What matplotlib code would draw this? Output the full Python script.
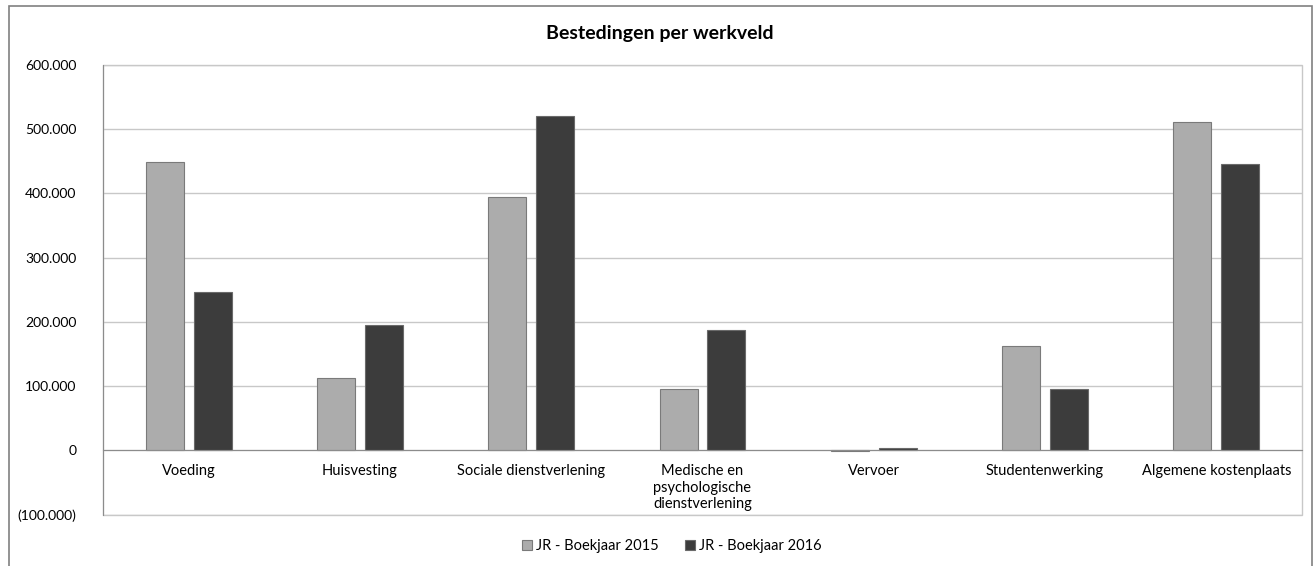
import numpy as np
import matplotlib
matplotlib.use('Agg')
import matplotlib.pyplot as plt
from matplotlib.patches import Rectangle
from matplotlib.ticker import FuncFormatter

categories = ['Voeding', 'Huisvesting', 'Sociale dienstverlening',
              'Medische en\npsychologische\ndienstverlening', 'Vervoer',
              'Studentenwerking', 'Algemene kostenplaats']
jr_2015 = [449000, 113000, 394000, 96000, -1500, 163000, 511000]
jr_2016 = [246000, 196000, 521000, 187000, 4000, 95000, 446000]
series_names = ['JR - Boekjaar 2015', 'JR - Boekjaar 2016']
yticks = [-100000, 0, 100000, 200000, 300000, 400000, 500000, 600000]

plt.rcParams['font.family'] = ['Lato', 'DejaVu Sans']
plt.rcParams['font.size'] = 10.5

def fmt(v, pos):
    s = '{:,.0f}'.format(abs(v)).replace(',', '.')
    return '(' + s + ')' if v < 0 else s

fig = plt.figure(figsize=(13.14, 5.66), dpi=100)
ax = fig.add_axes([103/1314, 1-514.7/566, (1302-103)/1314, (514.7-65)/566])

x = np.arange(len(categories))
w = 0.222
off = 0.14
ax.bar(x - off, jr_2015, w, color='#acacac', edgecolor='#7a7a7a', linewidth=0.8,
       label=series_names[0], zorder=3)
ax.bar(x + off, jr_2016, w, color='#3c3c3c', edgecolor='#6a6a6a', linewidth=0.8,
       label=series_names[1], zorder=3)

ax.set_xlim(-0.5, len(categories) - 0.5)
ax.set_ylim(-100000, 600000)
ax.set_yticks(yticks)
ax.yaxis.set_major_formatter(FuncFormatter(fmt))
ax.grid(axis='y', color='#c8c8c8', linewidth=1, zorder=0)
ax.set_axisbelow(True)

ax.set_xticks(x)
ax.set_xticklabels(categories, linespacing=1.45, fontsize=10.8)
ax.spines['bottom'].set_position(('data', 0))
ax.spines['bottom'].set_color('#8c8c8c')
ax.spines['bottom'].set_zorder(4)
ax.spines['left'].set_color('#8c8c8c')
ax.spines['top'].set_visible(False)
ax.spines['right'].set_visible(False)
ax.tick_params(axis='x', length=0, pad=10)
ax.tick_params(axis='y', length=0, pad=19, labelsize=10)
ax.add_patch(Rectangle((0, 0), 1, 1, transform=ax.transAxes, fill=False,
                       edgecolor='#c8c8c8', linewidth=1, zorder=1, clip_on=False))

fig.text(660/1314, 1-33/566, 'Bestedingen per werkveld', ha='center', va='center',
         fontweight='bold', fontsize=14)

fig.legend(loc='center', bbox_to_anchor=(672/1314, 1-546/566), ncol=2, frameon=False,
           handlelength=0.65, handleheight=0.65, handletextpad=0.3, columnspacing=1.8)

fig.patches.append(Rectangle((9/1314, -0.05), (1312-9)/1314, 1.05-6/566,
                             transform=fig.transFigure, fill=False,
                             edgecolor='#808080', linewidth=1.2))

fig.savefig('out.png', dpi=100)
